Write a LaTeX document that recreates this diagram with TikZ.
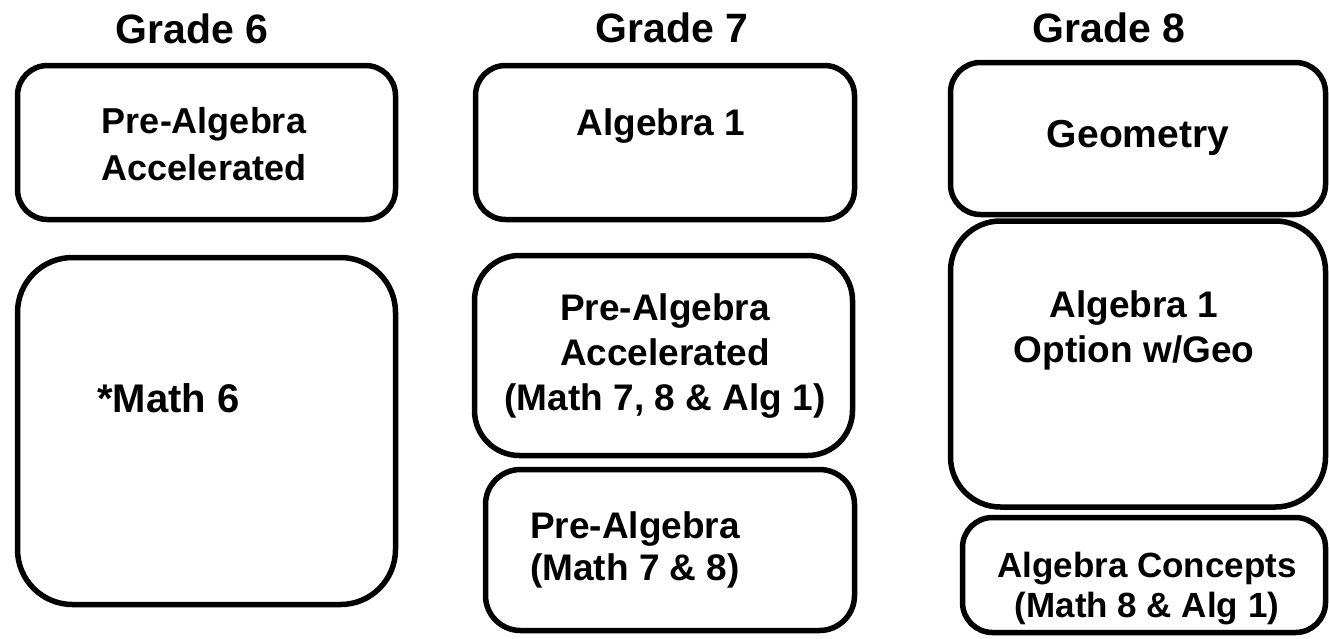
\documentclass[tikz,border=0pt]{standalone}
\usepackage{fontspec}
\setmainfont{Liberation Sans}
\usetikzlibrary{positioning}

\begin{document}
\begin{tikzpicture}[x=1pt,y=-1pt,
    course/.style={draw=black,fill=white,line width=5.5pt,inner sep=0pt},
    grade/.style={inner sep=0pt,anchor=base,font=\fontsize{41}{48}\selectfont\bfseries},
    lbl/.style={inner sep=0pt,anchor=base,align=center,font=\fontsize{37}{45}\selectfont\bfseries},
    lbll/.style={lbl,align=left,anchor=base west}]
  \useasboundingbox (0,0) rectangle (1329,638);
  % column heads
  \node[grade] (g6) at (192,43) {Grade 6};
  \node[grade] (g7) at (672,42) {Grade 7};
  \node[grade] (g8) at (1109,42) {Grade 8};
  % boxes
  \node[course,rounded corners=30pt,minimum width=378pt,minimum height=154pt] (pa6)  at (206.5,142.5) {};
  \node[course,rounded corners=55pt,minimum width=378pt,minimum height=347pt] (m6)   at (206.5,431) {};
  \node[course,rounded corners=30pt,minimum width=379pt,minimum height=154pt] (a7)   at (665,142.5) {};
  \node[course,rounded corners=45pt,minimum width=378pt,minimum height=200pt] (paa7) at (663.5,355.5) {};
  \node[course,rounded corners=35pt,minimum width=369pt,minimum height=161pt] (pa7)  at (670,550) {};
  \node[course,rounded corners=30pt,minimum width=375pt,minimum height=152pt] (geo8) at (1138,138.5) {};
  \node[course,rounded corners=50pt,minimum width=375pt,minimum height=286pt] (a8)   at (1138,364) {};
  \node[course,rounded corners=30pt,minimum width=363pt,minimum height=115pt] (ac8)  at (1144,575) {};
  % texts (base = last line)
  \node[lbl,font=\fontsize{36}{47}\selectfont\bfseries] (pa6t) at (204,180) {Pre-Algebra\\Accelerated};
  \node[lbll,font=\fontsize{40}{45}\selectfont\bfseries] (m6t) at (97,412) {*Math 6};
  \node[lbl] (a7t) at (661,135) {Algebra 1};
  \node[lbl] (paa7t) at (665,410) {Pre-Algebra\\Accelerated\\(Math 7, 8 \& Alg 1)};
  \node[lbll,font=\fontsize{37}{42}\selectfont\bfseries] (pa7t) at (530,580) {Pre-Algebra\\(Math 7 \& 8)};
  \node[lbl,font=\fontsize{39}{45}\selectfont\bfseries] (geo8t) at (1138,147) {Geometry};
  \node[lbl] (a8t) at (1134,362) {Algebra 1\\Option w/Geo};
  \node[lbl,font=\fontsize{35}{40}\selectfont\bfseries] (ac8t) at (1147,617) {Algebra Concepts\\(Math 8 \& Alg 1)};
\end{tikzpicture}
\end{document}
